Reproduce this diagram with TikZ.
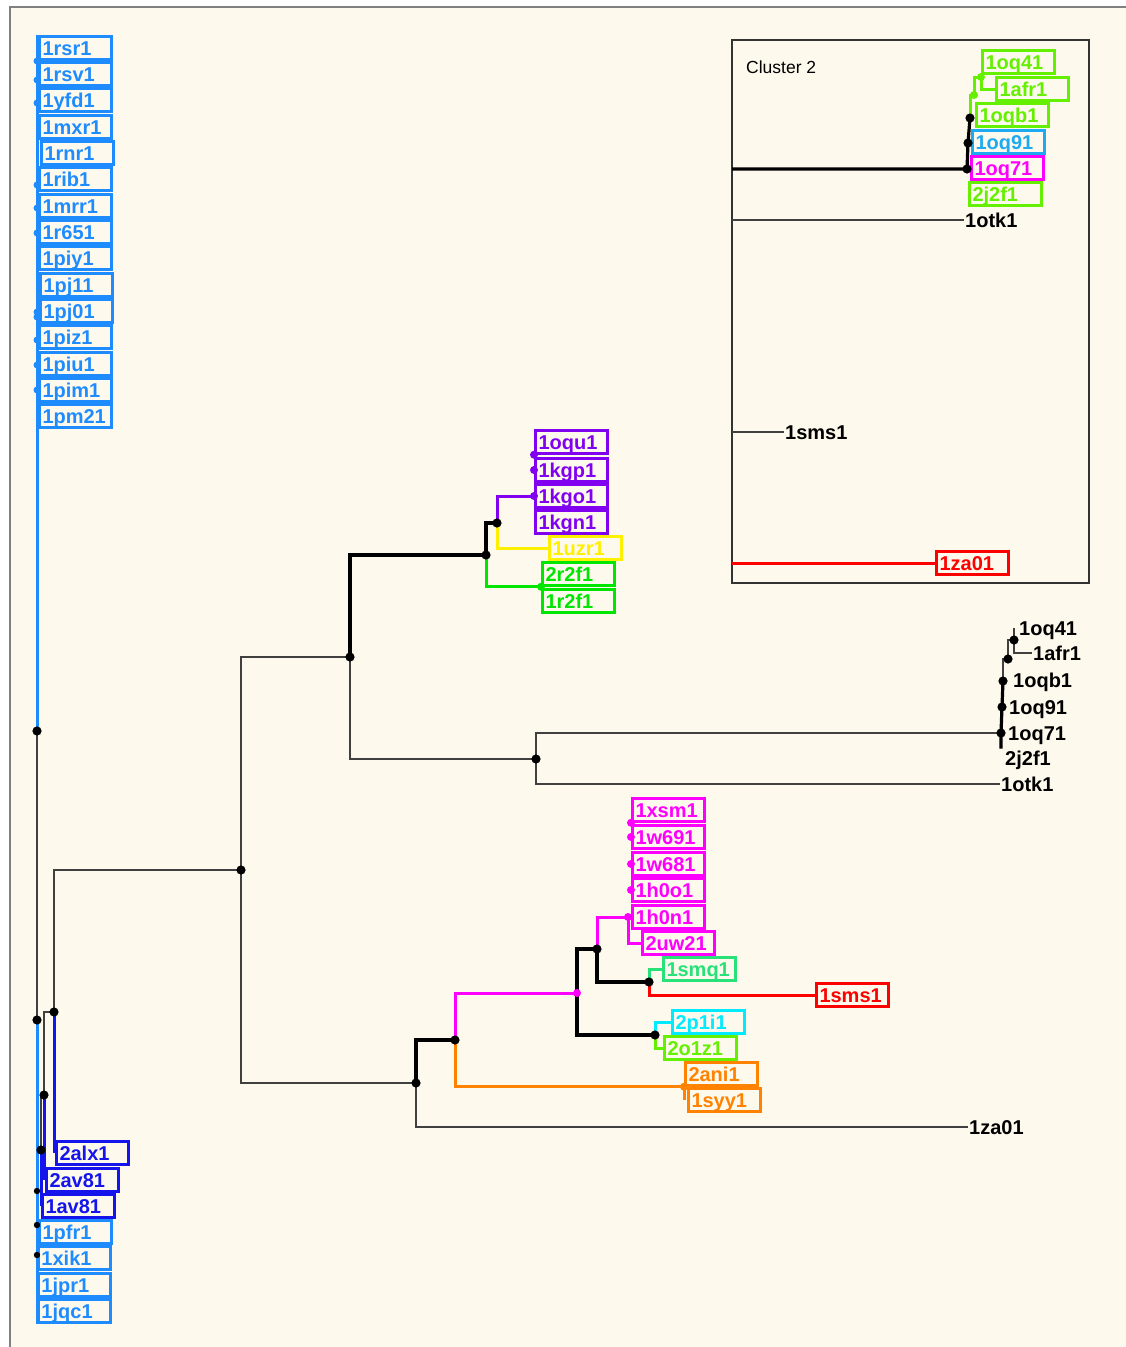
\documentclass[tikz,border=0pt]{standalone}
\usepackage{fontspec}
\setsansfont{Liberation Sans}
\definecolor{paper}{RGB}{253,249,236}
\definecolor{lblue}{RGB}{30,140,255}
\definecolor{dblue}{RGB}{20,20,235}
\definecolor{purp}{RGB}{130,0,240}
\definecolor{yell}{RGB}{255,240,0}
\definecolor{grn}{RGB}{0,230,0}
\definecolor{lime}{RGB}{100,240,0}
\definecolor{sgreen}{RGB}{40,225,120}
\definecolor{cyn}{RGB}{0,235,255}
\definecolor{mag}{RGB}{255,0,255}
\definecolor{rd}{RGB}{255,0,0}
\definecolor{orng}{RGB}{255,130,0}
\definecolor{oqblue}{RGB}{30,170,240}

\begin{document}
\begin{tikzpicture}[x=1pt,y=-1pt,
    lbl/.style={draw=#1,text=#1,line width=3pt,anchor=west,
      font=\sffamily\bfseries\fontsize{20}{21}\selectfont,
      text width=66pt,align=left,inner xsep=3pt,inner ysep=0pt,
      minimum height=22.5pt,text height=15.5pt,text depth=1pt},
    txt/.style={anchor=west,inner sep=1pt,
      font=\sffamily\bfseries\fontsize{20}{21}\selectfont,
      text height=15.5pt,text depth=1pt},
    gl/.style={draw=black!75,line width=2pt},
    bl/.style={draw=black,line width=3.2pt},
    cl/.style={draw=#1,line width=3pt}]
  \useasboundingbox (0,0) rectangle (1126,1347);
  \fill[paper] (10,7) rectangle (1126,1347);
  \draw[black!50,line width=1.5pt] (10,1347) -- (10,7) -- (1126,7);

  % left column
  \foreach \n/\x/\y in {1rsr1/38/48,1rsv1/38/74,1yfd1/38/100,1mxr1/38/127,
      1rnr1/40/153,1rib1/38/179,1mrr1/38/206,1r651/38/232,1piy1/38/258,
      1pj11/39/285,1pj01/39/311,1piz1/38/337,1piu1/38/364,1pim1/38/390,
      1pm21/38/416,1pfr1/38/1232,1xik1/37/1258,1jpr1/37/1285,1jqc1/37/1311}
    \node[lbl=lblue] (\n) at (\x,\y) {\n};
  \foreach \n/\x/\y in {2alx1/55/1153,2av81/45/1180,1av81/41/1206}
    \node[lbl=dblue] (\n) at (\x,\y) {\n};

  % upper clade
  \foreach \n/\y in {1oqu1/442,1kgp1/470,1kgo1/496,1kgn1/522}
    \node[lbl=purp] (\n) at (534,\y) {\n};
  \node[lbl=yell] (1uzr1) at (548,548) {1uzr1};
  \node[lbl=grn] (2r2f1) at (541,574) {2r2f1};
  \node[lbl=grn] (1r2f1) at (541,601) {1r2f1};

  % lower clade
  \foreach \n/\y in {1xsm1/810,1w691/837,1w681/864,1h0o1/890,1h0n1/917}
    \node[lbl=mag] (\n) at (631,\y) {\n};
  \node[lbl=mag] (2uw21) at (641,943) {2uw21};
  \node[lbl=sgreen] (1smq1) at (662,969) {1smq1};
  \node[lbl=rd] (1sms1) at (815,995) {1sms1};
  \node[lbl=cyn] (2p1i1) at (671,1022) {2p1i1};
  \node[lbl=lime] (2o1z1) at (663,1048) {2o1z1};
  \node[lbl=orng] (2ani1) at (684,1074) {2ani1};
  \node[lbl=orng] (1syy1) at (687,1100) {1syy1};
  \node[txt] (1za01) at (968,1127) {1za01};

  % right clade, plain labels
  \node[txt] (r1oq41) at (1018,628) {1oq41};
  \node[txt] (r1afr1) at (1032,653) {1afr1};
  \node[txt] (r1oqb1) at (1012,680) {1oqb1};
  \node[txt] (r1oq91) at (1008,707) {1oq91};
  \node[txt] (r1oq71) at (1007,733) {1oq71};
  \node[txt] (r2j2f1) at (1004,758) {2j2f1};
  \node[txt] (r1otk1) at (1000,784) {1otk1};

  % cluster 2
  \draw[black!80,line width=2.5pt] (732,40) rectangle (1089,583);
  \node[anchor=west,inner sep=0pt,font=\sffamily\fontsize{17.5}{19}\selectfont]
    (cl2) at (746,67) {Cluster 2};
  \node[lbl=lime] (k1oq41) at (981,62) {1oq41};
  \node[lbl=lime] (k1afr1) at (995,89) {1afr1};
  \node[lbl=lime] (k1oqb1) at (975,115) {1oqb1};
  \node[lbl=oqblue] (k1oq91) at (971,142) {1oq91};
  \node[lbl=mag] (k1oq71) at (970,168) {1oq71};
  \node[lbl=lime] (k2j2f1) at (968,194) {2j2f1};
  \node[txt] (k1otk1) at (964,220) {1otk1};
  \node[txt] (k1sms1) at (784,432) {1sms1};
  \node[lbl=rd] (k1za01) at (935,563) {1za01};

  \coordinate (c1) at (37,731);
  \coordinate (c2) at (37,1020);
  \coordinate (c3) at (54,1012);
  \coordinate (c4) at (44,1095);
  \coordinate (c5) at (41,1150);
  \coordinate (m0) at (241,870);
  \coordinate (m1) at (350,657);
  \coordinate (m2) at (486,555);
  \coordinate (m3) at (497,523);
  \coordinate (m4) at (536,759);
  \coordinate (m5) at (1001,733);
  \coordinate (r1) at (1002,707);
  \coordinate (r2) at (1003,681);
  \coordinate (r3) at (1008,659);
  \coordinate (r4) at (1014,640);
  \coordinate (s0) at (416,1083);
  \coordinate (s1) at (455,1040);
  \coordinate (s2) at (577,993);
  \coordinate (s3) at (597,949);
  \coordinate (s4) at (655,1035);
  \coordinate (s5) at (649,982);
  \coordinate (t1) at (628,917);
  \coordinate (q0) at (732,169);
  \coordinate (q1) at (967,169);
  \coordinate (q2) at (968,143);
  \coordinate (q3) at (970,118);
  \coordinate (q4) at (974,95);
  \coordinate (q5) at (981,77);

  % branches
  \draw[cl=lblue] (c1 |- 1rsr1.north) -- (c1);
  \draw[gl] (c1) -- (c2);
  \draw[cl=lblue] (c2) -- (c2 |- 1jqc1.south);
  \draw[gl] (c3) |- (m0);
  \draw[cl=dblue] (c3) -- (c3 |- 2alx1.west);
  \draw[gl] (c3) -| (c4);
  \draw[cl=dblue] (c4) -- (c4 |- 2av81.west);
  \draw[gl] (c4) -| (c5);
  \draw[cl=dblue] (c5) -- (c5 |- 1av81.west);

  \draw[gl] (m0) |- (m1);
  \draw[gl] (m0) |- (s0);
  \draw[bl] (m1) |- (m2);
  \draw[gl] (m1) |- (m4);
  \draw[bl] (m2) |- (m3);
  \draw[cl=grn] (m2) |- (2r2f1.south west);
  \draw[cl=purp] (m3) |- (1kgo1.west);
  \draw[cl=yell] (m3) |- (1uzr1.west);
  \draw[gl] (m4) |- (m5);
  \draw[gl] (m4) |- (r1otk1.west);
  \draw[bl] (m5 |- r2j2f1.north) -- (m5) -- (r1) -- (r2);
  \draw[gl] (r2) |- (r3) |- (r4);
  \draw[gl] (r4) -- (r4 |- r1oq41.west);
  \draw[gl] (r4) |- (r1afr1.west);

  \draw[gl] (s0) |- (1za01.west);
  \draw[bl] (s0) |- (s1);
  \draw[cl=mag] (s1) |- (s2);
  \draw[cl=orng] (s1) |- (2ani1.south west);
  \draw[cl=orng] (2ani1.south west) -- (2ani1.south west |- 1syy1.west);
  \draw[bl] (s2) |- (s3);
  \draw[bl] (s2) |- (s4);
  \draw[cl=mag] (s3) |- (t1);
  \draw[cl=mag] (t1) |- (2uw21.west);
  \draw[bl] (s3) |- (s5);
  \draw[cl=sgreen] (s5) |- (1smq1.west);
  \draw[cl=rd] (s5) |- (1sms1.west);
  \draw[cl=cyn] (s4) |- (2p1i1.west);
  \draw[cl=lime] (s4) |- (2o1z1.west);

  \draw[bl] (q0) -- (q1) -- (q2) -- (q3);
  \draw[cl=lime] (q3) |- (q4) |- (q5);
  \draw[cl=lime] (q5) |- (k1afr1.west);
  \draw[gl] (q0 |- k1otk1.west) -- (k1otk1.west);
  \draw[gl] (q0 |- k1sms1.west) -- (k1sms1.west);
  \draw[cl=rd] (q0 |- k1za01.west) -- (k1za01.west);

  % dots
  \foreach \y in {61,80,103,185,208,233,312,317,340,365,390}
    \fill[lblue] (37,\y) circle (3.5pt);
  \foreach \y in {1191,1225,1255}
    \fill (37,\y) circle (3.2pt);
  \foreach \p in {c1,c2,c3,c4,c5,m0,m1,m2,m3,m4,m5,r1,r2,r3,r4,
      s0,s1,s3,s4,s5,q1,q2,q3}
    \fill (\p) circle (4.6pt);
  \foreach \p in {s2,t1,1xsm1.south west,1w691.west,1w681.west,1h0o1.west}
    \fill[mag] (\p) circle (4pt);
  \foreach \p in {1oqu1.south west,1kgp1.west,1kgo1.west}
    \fill[purp] (\p) circle (4pt);
  \fill[grn] (2r2f1.south west) circle (4pt);
  \fill[orng] (2ani1.south west) circle (4pt);
  \fill[lime] (q4) circle (4pt);
  \fill[lime] (q5) circle (4pt);
\end{tikzpicture}
\end{document}
